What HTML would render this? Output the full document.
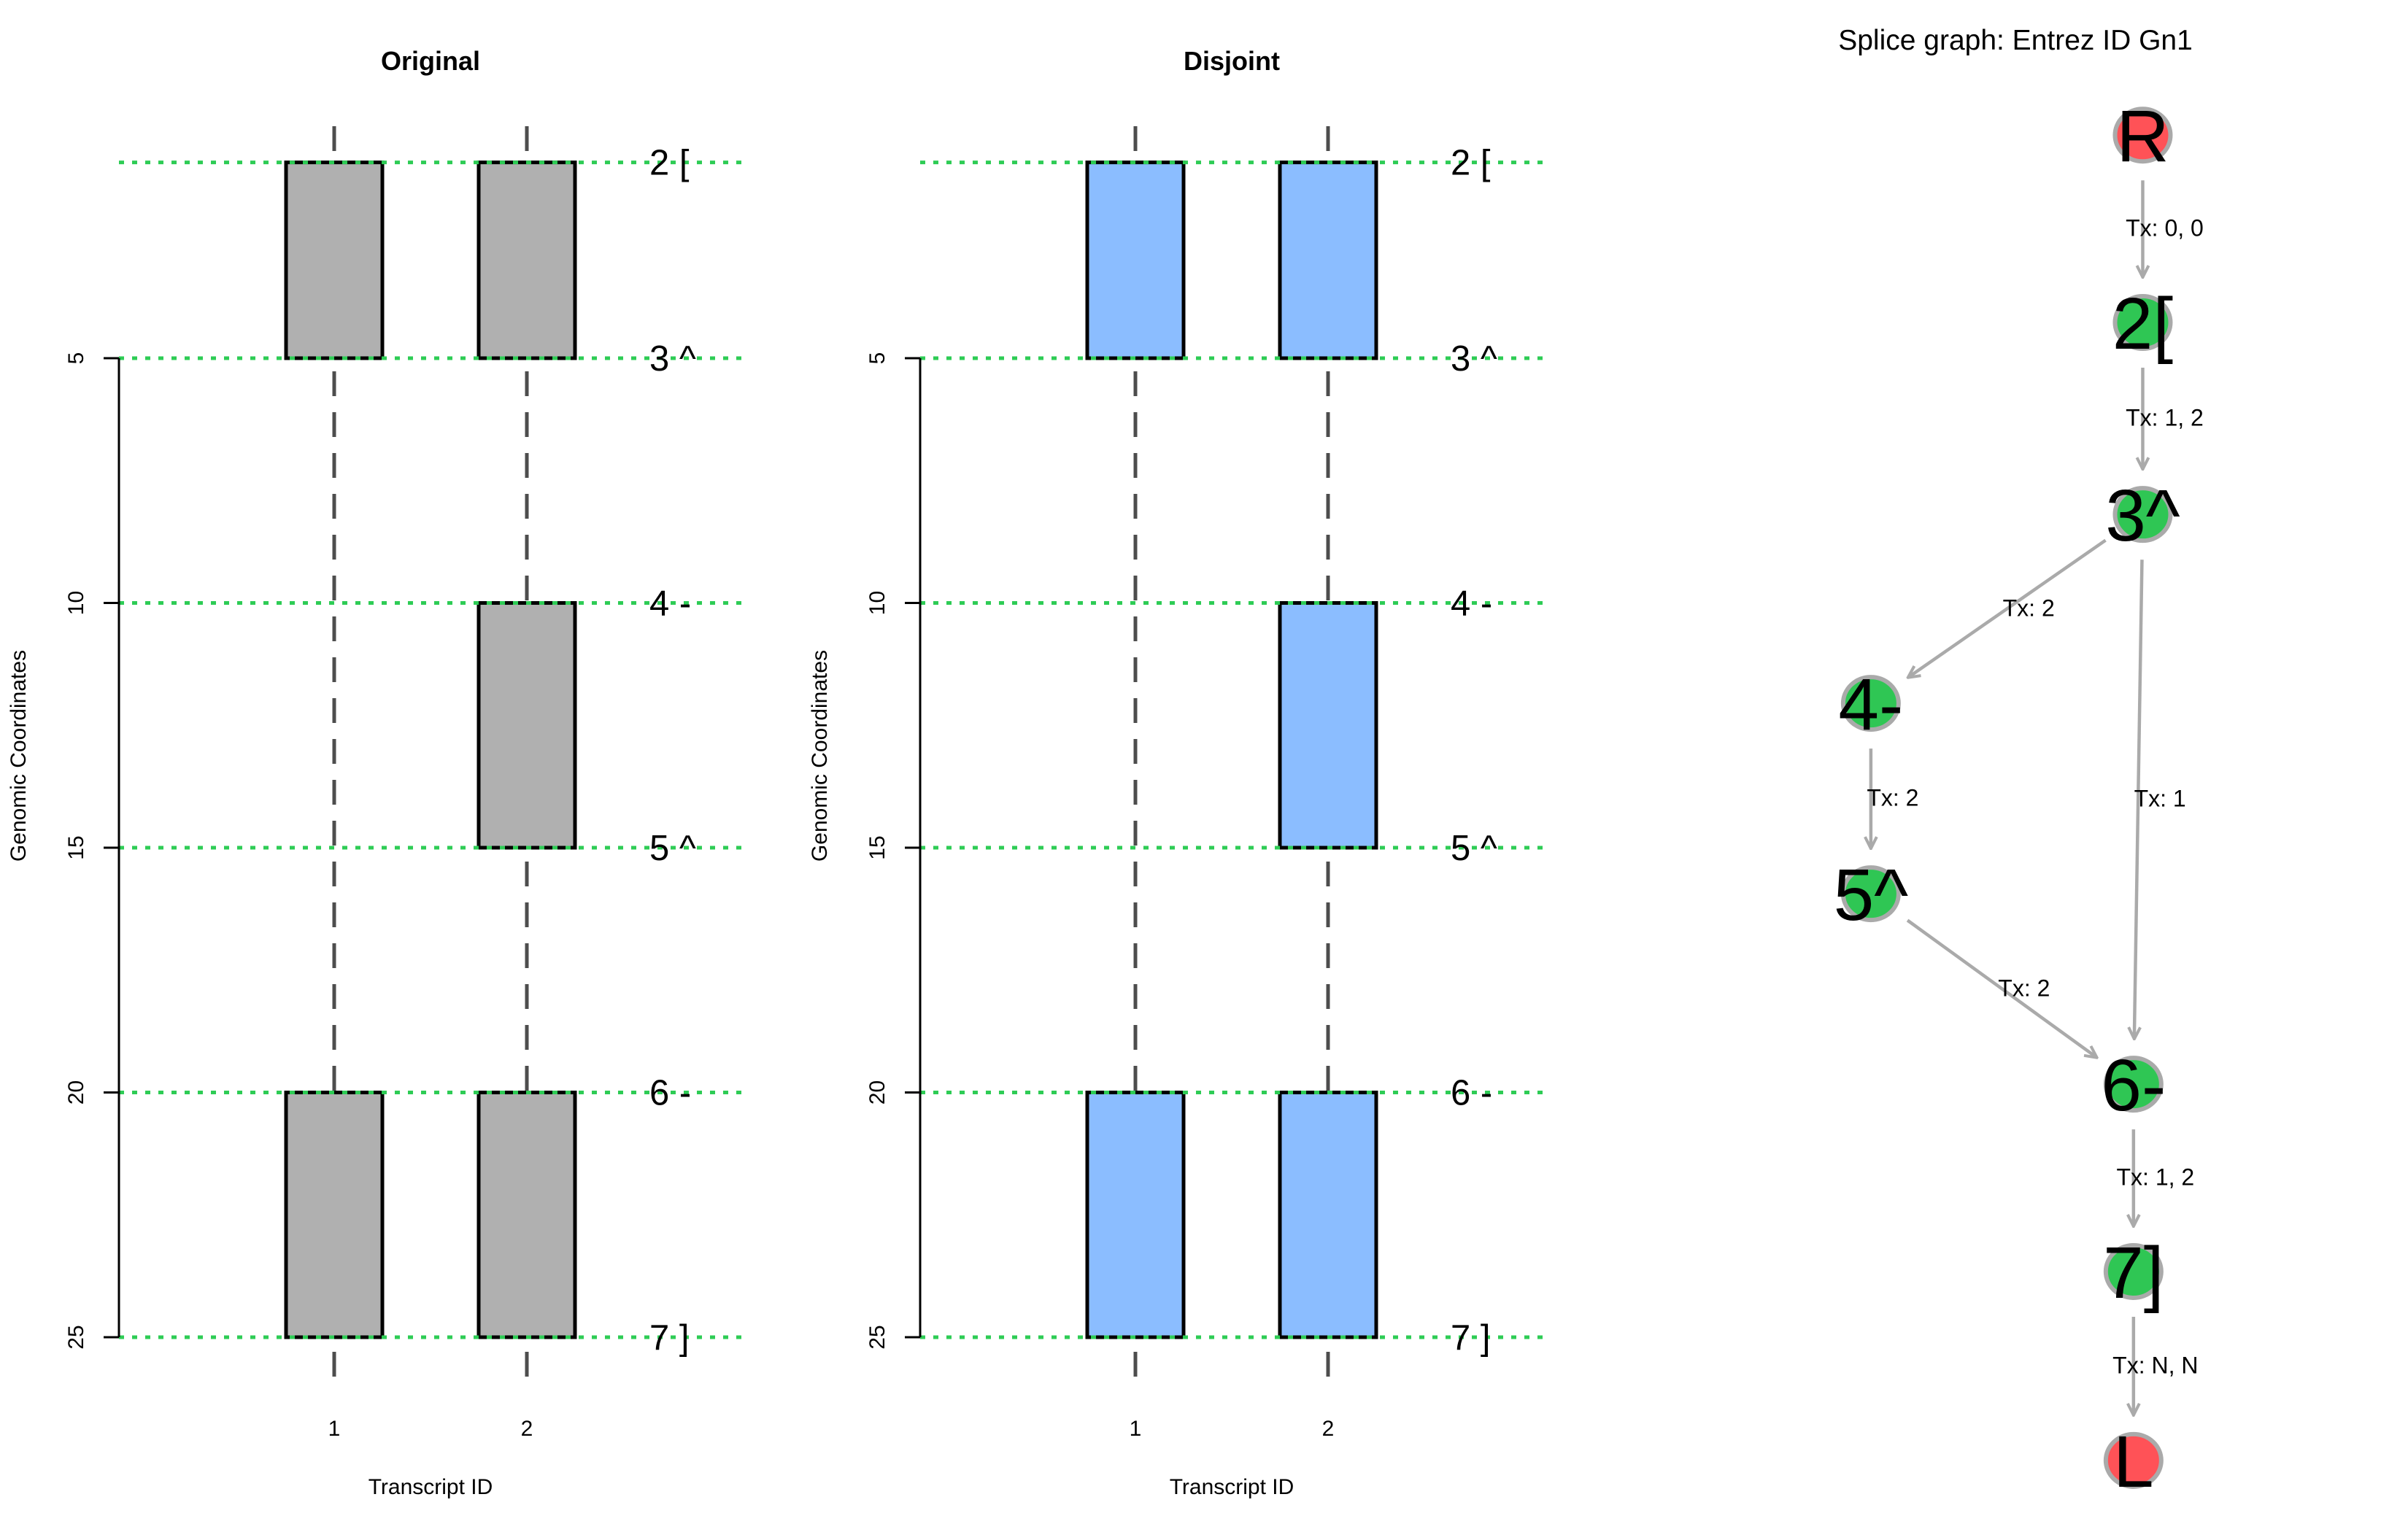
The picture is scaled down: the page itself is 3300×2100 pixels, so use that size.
<!DOCTYPE html>
<html><head><meta charset="utf-8"><style>
html,body{margin:0;padding:0;background:#fff;}
svg{display:block;font-family:"Liberation Sans",Arial,sans-serif;}
</style></head><body>
<svg id="chart" width="3300" height="2100" viewBox="0 0 3300 2100" xmlns="http://www.w3.org/2000/svg">
<defs>
<marker id="arr" viewBox="0 0 20 20" refX="18" refY="10" markerWidth="20" markerHeight="20" markerUnits="userSpaceOnUse" orient="auto">
<path d="M2 2 L18 10 L2 18" fill="none" stroke="#aaaaaa" stroke-width="4"/>
</marker>
</defs>
<text x="2762" y="68" font-size="39" text-anchor="middle">Splice graph: Entrez ID Gn1</text>
</svg>
<script>
const boundaries = [1, 5, 10, 15, 20, 25];
const exonLabels = ["2 [", "3 ^", "4 -", "5 ^", "6 -", "7 ]"];
const yTicks = [5, 10, 15, 20, 25];
const transcripts = [1, 2];
const originalExons = [[1, 1, 5], [1, 20, 25], [2, 1, 5], [2, 10, 15], [2, 20, 25]];
const disjointExons = [[1, 1, 5], [1, 20, 25], [2, 1, 5], [2, 10, 15], [2, 20, 25]];
const panelTitles = ["Original", "Disjoint"];
const nodeNames = ["R", "2[", "3^", "4-", "5^", "6-", "7]", "L"];
const nodeX = [1395, 1395, 1395, 1218, 1218, 1389, 1389, 1389];
const nodeY = [88, 210, 335, 458, 582, 706, 828, 951];
const nodeKinds = ["end", "exon", "exon", "exon", "exon", "exon", "exon", "end"];
const edgeFrom = [0, 1, 2, 2, 3, 4, 5, 6];
const edgeTo = [1, 2, 3, 5, 4, 5, 6, 7];
const edgeLabels = ["Tx: 0, 0", "Tx: 1, 2", "Tx: 2", "Tx: 1", "Tx: 2", "Tx: 2", "Tx: 1, 2", "Tx: N, N"];

const NS = "http://www.w3.org/2000/svg";
const svg = document.getElementById("chart");
function mk(tag, attrs, parent) {
  const e = document.createElementNS(NS, tag);
  for (const k in attrs) e.setAttribute(k, attrs[k]);
  (parent || svg).appendChild(e);
  return e;
}
function yScale(v) { return 1833 - (25 - v) * 67.1; }

function drawPanel(pi, exons, fill) {
  const off = pi * 1098;
  const xScale = t => off + 458 + (t - 1) * 264;
  const g = mk("g", {});
  
  
  const t = mk("text", {x: off + 590, y: 96, "font-size": 36, "font-weight": "bold", "text-anchor": "middle"}, g);
  t.textContent = panelTitles[pi];
  
  
  transcripts.forEach(tr => {
    const l = mk("line", {x1: xScale(tr), x2: xScale(tr), y1: 173, y2: 1904, stroke: "#4d4d4d", "stroke-width": 5, "stroke-dasharray": "34 22"}, g);
    
    
  });
  exons.forEach(ex => {
    const r = mk("rect", {x: xScale(ex[0]) - 66, y: yScale(ex[1]), width: 132, height: yScale(ex[2]) - yScale(ex[1]), fill: fill, stroke: "#000", "stroke-width": 5}, g);
    
    
  });
  boundaries.forEach((b, i) => {
    const l = mk("line", {x1: off + 163, x2: off + 1018, y1: yScale(b), y2: yScale(b), stroke: "#2ecc55", "stroke-width": 5, "stroke-dasharray": "7 11"}, g);
    
    
    const tx = mk("text", {x: off + 890, y: yScale(b) + 17, "font-size": 49}, g);
    tx.textContent = exonLabels[i];
    
    
  });
  const ax = mk("line", {x1: off + 163, x2: off + 163, y1: yScale(yTicks[0]), y2: yScale(yTicks[yTicks.length - 1]), stroke: "#000", "stroke-width": 3}, g);
  
  
  yTicks.forEach(v => {
    const tk = mk("line", {x1: off + 142, x2: off + 163, y1: yScale(v), y2: yScale(v), stroke: "#000", "stroke-width": 3}, g);
    
    
    const lb = mk("text", {x: 0, y: 0, "font-size": 30, "text-anchor": "middle", transform: "translate(" + (off + 114) + "," + yScale(v) + ") rotate(-90)"}, g);
    lb.textContent = v;
    
    
  });
  transcripts.forEach(tr => {
    const lb = mk("text", {x: xScale(tr), y: 1968, "font-size": 30, "text-anchor": "middle"}, g);
    lb.textContent = tr;
    
    
  });
  const xl = mk("text", {x: off + 590, y: 2058 - 10, "font-size": 30, "text-anchor": "middle"}, g);
  xl.textContent = "Transcript ID";
  
  
  const yl = mk("text", {x: 0, y: 0, "font-size": 30, "text-anchor": "middle", transform: "translate(" + (off + 35) + ",1036) rotate(-90)"}, g);
  yl.textContent = "Genomic Coordinates";
  
  
}
drawPanel(0, originalExons, "#b0b0b0");
drawPanel(1, disjointExons, "#8bbdff");

const S = 2.105;
const R = 38;
const gg = mk("g", {});


edgeFrom.forEach((f, i) => {
  const x1 = nodeX[f] * S, y1 = nodeY[f] * S, x2 = nodeX[edgeTo[i]] * S, y2 = nodeY[edgeTo[i]] * S;
  const dx = x2 - x1, dy = y2 - y1, d = Math.hypot(dx, dy);
  const ux = dx / d, uy = dy / d, pad = 62;
  const l = mk("line", {x1: x1 + ux * pad, y1: y1 + uy * pad, x2: x2 - ux * pad, y2: y2 - uy * pad, stroke: "#aaaaaa", "stroke-width": 4.5, "marker-end": "url(#arr)"}, gg);
  
  
});
edgeFrom.forEach((f, i) => {
  const mx = (nodeX[f] + nodeX[edgeTo[i]]) / 2 * S + 30, my = (nodeY[f] + nodeY[edgeTo[i]]) / 2 * S + 10;
  const t = mk("text", {x: mx, y: my, "font-size": 32, "text-anchor": "middle"}, gg);
  t.textContent = edgeLabels[i];
  
  
});
nodeNames.forEach((n, i) => {
  const c = mk("ellipse", {cx: nodeX[i] * S, cy: nodeY[i] * S, rx: R, ry: 36, fill: nodeKinds[i] === "end" ? "#ff5257" : "#2fc654", stroke: "#aaaaaa", "stroke-width": 6}, gg);
  
  
  const t = mk("text", {x: nodeX[i] * S, y: nodeY[i] * S + 36, "font-size": 100, "text-anchor": "middle"}, gg);
  t.textContent = n;
  
  
});
</script>
</body></html>
